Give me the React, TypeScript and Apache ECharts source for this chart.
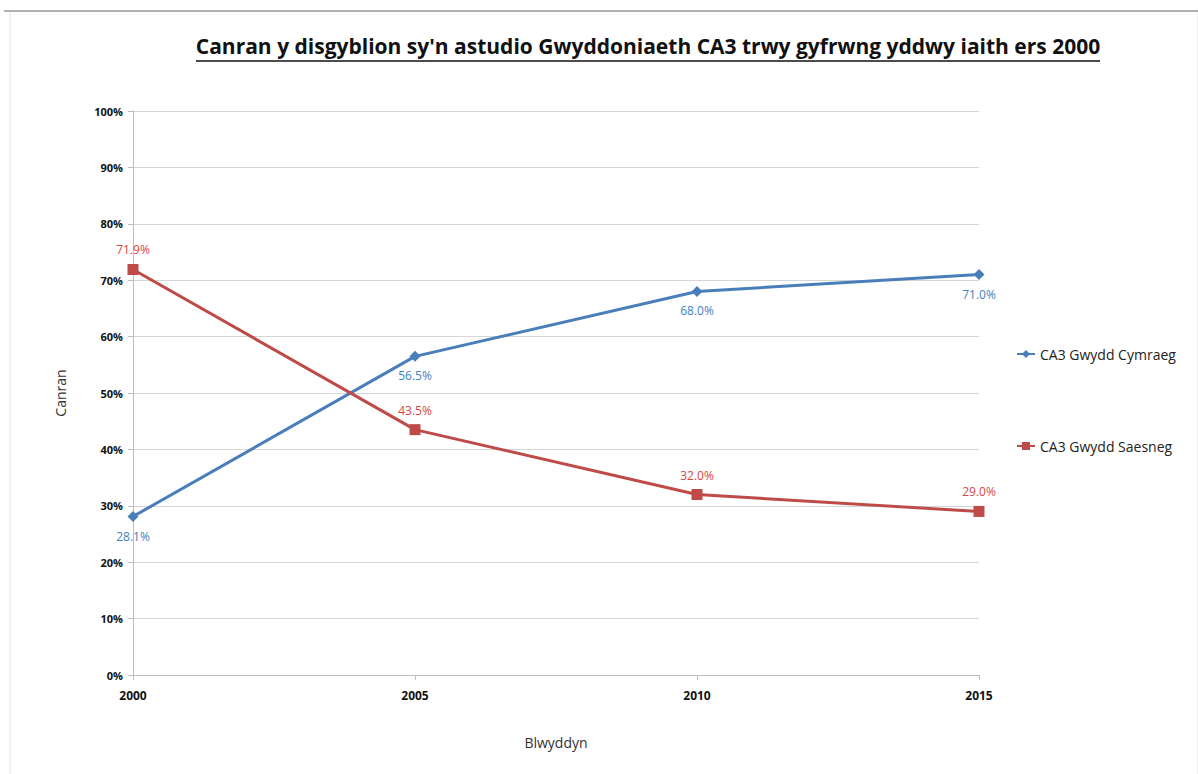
import React, { useEffect, useRef } from "react";
import * as echarts from "echarts";

const years = ["2000", "2005", "2010", "2015"];
const cymraeg = [28.1, 56.5, 68.0, 71.0];
const saesneg = [71.9, 43.5, 32.0, 29.0];
const seriesNames = ["CA3 Gwydd Cymraeg", "CA3 Gwydd Saesneg"];
const titleText = "Canran y disgyblion sy'n astudio Gwyddoniaeth CA3 trwy gyfrwng yddwy iaith ers 2000";

const FONT = "'Open Sans', 'DejaVu Sans', sans-serif";
const BLUE = "#4A7EBB";
const RED = "#BE4B48";

export default function App() {
  const ref = useRef<HTMLDivElement>(null);

  useEffect(() => {
    document.body.style.margin = "0";
    const chart = echarts.init(ref.current!, undefined, { renderer: "svg" });
    chart.setOption({
      animation: false,
      backgroundColor: "#fff",
      textStyle: { fontFamily: FONT },
      graphic: [
        {
          type: "rect",
          shape: { x: 10, y: 11, width: 1188, height: 770 },
          style: { fill: "none", stroke: "#e2e2e2", lineWidth: 1 },
        },
        {
          type: "line",
          shape: { x1: 4, y1: 11, x2: 1198, y2: 11 },
          style: { stroke: "#9a9a9a", lineWidth: 1.5 },
        },
        {
          type: "text",
          x: 648,
          y: 46,
          style: {
            text: titleText,
            fill: "#111",
            font: `bold 21px ${FONT}`,
            align: "center",
            verticalAlign: "middle",
          },
        },
        {
          type: "line",
          shape: { x1: 196, y1: 61, x2: 1100, y2: 61 },
          style: { stroke: "#111", lineWidth: 1.6 },
        },
      ],
      legend: {
        orient: "vertical",
        left: 1011,
        top: 342,
        itemGap: 78,
        itemWidth: 18,
        itemHeight: 10,
        textStyle: { fontSize: 14, color: "#222", fontFamily: FONT },
        data: seriesNames,
      },
      grid: { left: 133, right: 219, top: 111, bottom: 99 },
      xAxis: {
        type: "category",
        data: years,
        boundaryGap: false,
        name: "Blwyddyn",
        nameLocation: "middle",
        nameGap: 60,
        nameTextStyle: { fontSize: 14, color: "#333", fontFamily: FONT },
        axisLine: { lineStyle: { color: "#bdbdbd" } },
        axisTick: { show: true, length: 5, lineStyle: { color: "#bdbdbd" } },
        axisLabel: { fontSize: 12, fontWeight: "bold", color: "#111", margin: 14, fontFamily: FONT },
      },
      yAxis: {
        type: "value",
        min: 0,
        max: 100,
        interval: 10,
        name: "Canran",
        nameLocation: "middle",
        nameGap: 66,
        nameRotate: 90,
        nameTextStyle: { fontSize: 14, color: "#333", fontFamily: FONT },
        axisLine: { show: true, lineStyle: { color: "#bdbdbd" } },
        axisTick: { show: true, length: 5, lineStyle: { color: "#bdbdbd" } },
        splitLine: { lineStyle: { color: "#d6d6d6" } },
        axisLabel: {
          formatter: "{value}%",
          fontSize: 11,
          fontWeight: "bold",
          color: "#111",
          margin: 10,
          fontFamily: FONT,
        },
      },
      series: [
        {
          name: seriesNames[0],
          type: "line",
          data: cymraeg,
          color: BLUE,
          lineStyle: { width: 3, color: BLUE },
          symbol: "diamond",
          symbolSize: 11,
          itemStyle: { color: BLUE },
          label: {
            show: true,
            position: "bottom",
            distance: 8,
            color: "#3F7FBF",
            fontSize: 12,
            fontFamily: FONT,
            formatter: (p: any) => p.value.toFixed(1) + "%",
          },
        },
        {
          name: seriesNames[1],
          type: "line",
          data: saesneg,
          color: RED,
          lineStyle: { width: 3, color: RED },
          symbol: "rect",
          symbolSize: 11,
          itemStyle: { color: RED },
          label: {
            show: true,
            position: "top",
            distance: 8,
            color: "#D9473F",
            fontSize: 12,
            fontFamily: FONT,
            formatter: (p: any) => p.value.toFixed(1) + "%",
          },
        },
      ],
    });
    return () => chart.dispose();
  }, []);

  return <div ref={ref} style={{ width: 1198, height: 774 }} />;
}
